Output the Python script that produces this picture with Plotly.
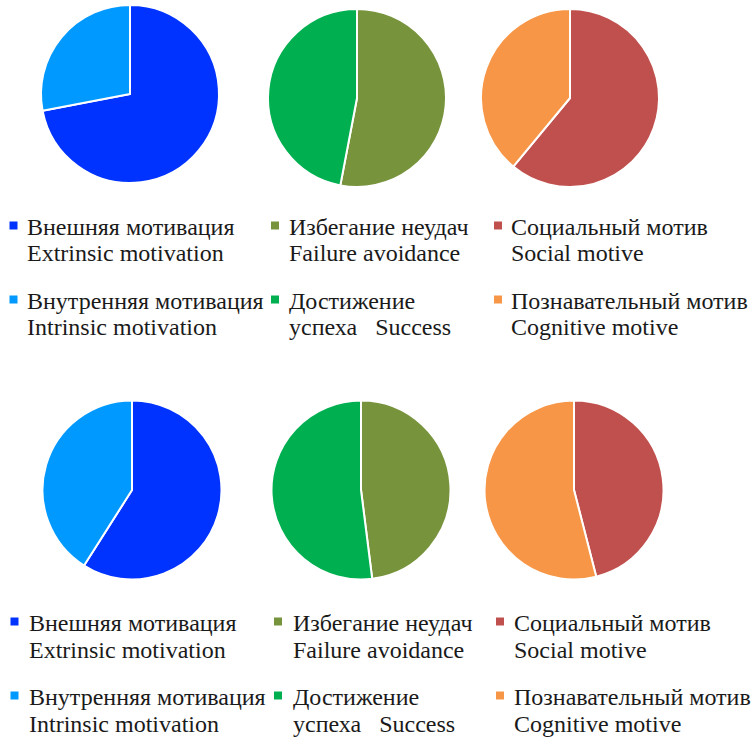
import plotly.graph_objects as go

W, H = 753, 737

# ---- data ----
labels_extr = ["Внешняя мотивация\nExtrinsic motivation", "Внутренняя мотивация\nIntrinsic motivation"]
labels_fail = ["Избегание неудач\nFailure avoidance", "Достижение\nуспеха   Success"]
labels_soc = ["Социальный мотив\nSocial motive", "Познавательный мотив\nCognitive motive"]

top_extr = [72, 28]
top_fail = [53, 47]
top_soc = [61, 39]
bot_extr = [59, 41]
bot_fail = [48, 52]
bot_soc = [46, 54]

colors_extr = ["#0033FF", "#0099FF"]
colors_fail = ["#77933C", "#00B050"]
colors_soc = ["#C0504D", "#F79646"]

FONT = "Liberation Serif"

# ---- layout helpers (pixel -> paper) ----
def px(x):
    return x / W

def py(y):
    return 1 - y / H

fig = go.Figure()

pies = [
    # labels, values, colors, centre x, centre y, radius
    (labels_extr, top_extr, colors_extr, 130, 94, 89),
    (labels_fail, top_fail, colors_fail, 357, 98, 89),
    (labels_soc, top_soc, colors_soc, 570, 98, 89),
    (labels_extr, bot_extr, colors_extr, 132, 490, 89.5),
    (labels_fail, bot_fail, colors_fail, 361, 490, 89.5),
    (labels_soc, bot_soc, colors_soc, 574, 490, 89.5),
]

for labels, vals, cols, cx, cy, r in pies:
    fig.add_trace(go.Pie(
        labels=[l.replace("\n", " ") for l in labels],
        values=vals,
        marker=dict(colors=cols, line=dict(color="white", width=2)),
        sort=False,
        direction="clockwise",
        rotation=0,
        textinfo="none",
        hoverinfo="label+value",
        showlegend=False,
        domain=dict(x=[px(cx - r), px(cx + r)], y=[py(cy + r), py(cy - r)]),
    ))

# ---- manual legends ----
legend_blocks = [
    # labels, colors, square x centre, text x, first line centre y
    (labels_extr, colors_extr, 13.5, 25, 227),
    (labels_fail, colors_fail, 275, 287, 227),
    (labels_soc, colors_soc, 498, 509, 227),
    (labels_extr, colors_extr, 14.5, 27, 623),
    (labels_fail, colors_fail, 278, 291, 623),
    (labels_soc, colors_soc, 500, 512, 623),
]
ITEM_GAP = 74
LINE_GAP = 26.5
SQ = 8
annotations = []
shapes = []
for labels, cols, sqx, tx, y0 in legend_blocks:
    for i, (lab, col) in enumerate(zip(labels, cols)):
        yc = y0 + i * ITEM_GAP
        sqc = yc - 1.5
        shapes.append(dict(
            type="rect", xref="paper", yref="paper",
            x0=px(sqx - SQ / 2), x1=px(sqx + SQ / 2),
            y0=py(sqc + SQ / 2), y1=py(sqc - SQ / 2),
            fillcolor=col, line=dict(width=0),
        ))
        for j, line in enumerate(lab.split("\n")):
            annotations.append(dict(
                x=px(tx), y=py(yc + j * LINE_GAP), xref="paper", yref="paper",
                text=line, showarrow=False, xanchor="left", yanchor="middle",
                font=dict(family=FONT, size=24, color="#1a1a1a"),
            ))

fig.update_layout(
    width=W, height=H,
    margin=dict(l=0, r=0, t=0, b=0),
    paper_bgcolor="white",
    plot_bgcolor="white",
    annotations=annotations,
    shapes=shapes,
)

fig.write_html("out.html")
